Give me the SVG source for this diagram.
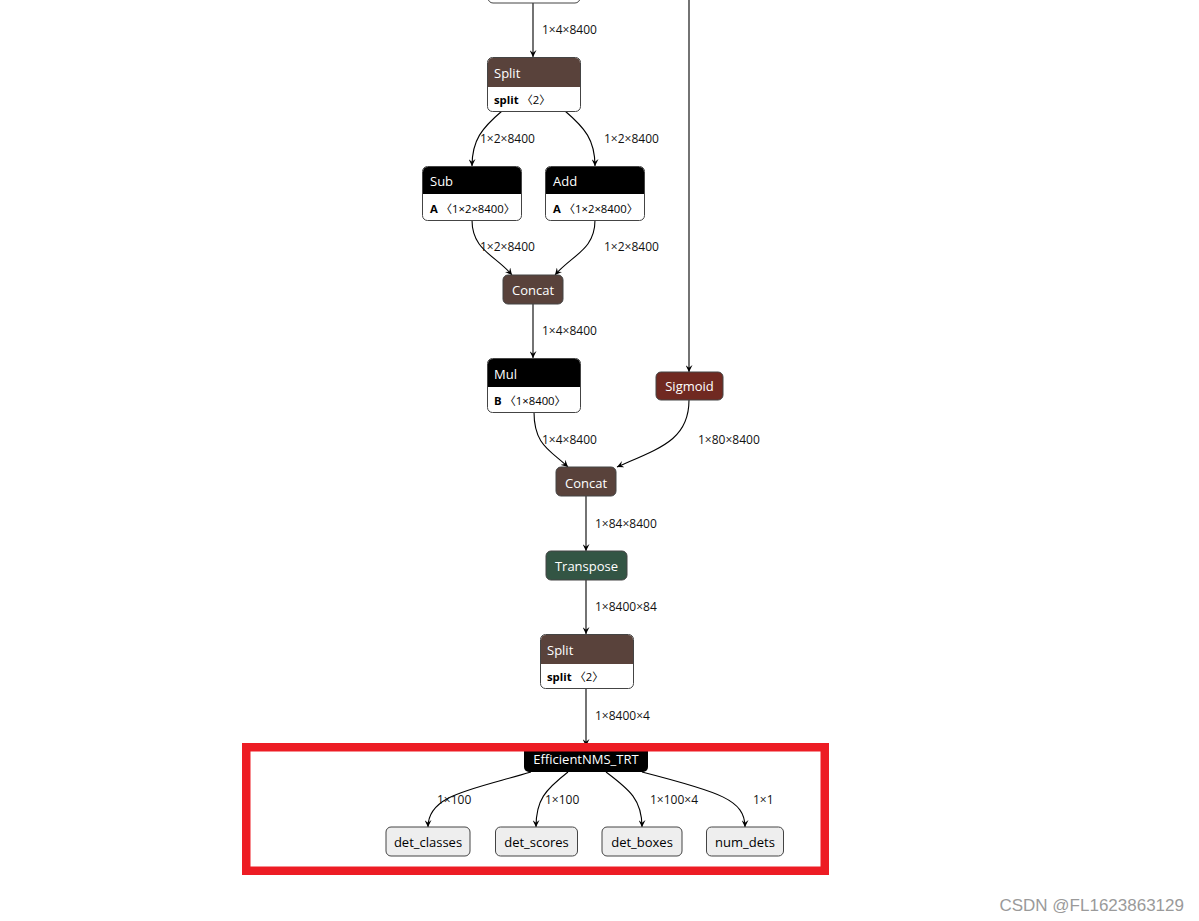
<svg xmlns="http://www.w3.org/2000/svg" width="1199" height="921" viewBox="0 0 1199 921">
<defs>
<marker id="arr" viewBox="0 0 10 10" refX="10" refY="5" markerWidth="7" markerHeight="7" markerUnits="userSpaceOnUse" orient="auto">
<path d="M0,0 L10,5 L0,10 L4,5 z" fill="#000"/>
</marker>
<style>
text{font-family:"Open Sans","Noto Sans","Noto Sans CJK SC",sans-serif}
.e{fill:none;stroke:#000;stroke-width:1.1;marker-end:url(#arr)}
.lbl{font-size:12px;fill:#111}
.hd{font-size:13px;fill:#fff}
.bd{fill:#fff;stroke:#444;stroke-width:1}
.bt{font-size:11.3px;fill:#000}
.b{font-weight:bold}
.tensor{fill:#59423b}
.blk{fill:#000}
.act{fill:#702921}
.trn{fill:#335544}
.io{fill:#eeeeee;stroke:#444;stroke-width:1}
.iot{font-size:13px;fill:#000;text-anchor:middle}
</style>
</defs>
<rect width="1199" height="921" fill="#fff"/>

<g id="connectors">
<path class="e" d="M533,3 L533,57"/>
<path class="e" d="M689,0 L689,372"/>
<path class="e" d="M502,111 C482,128 472,140 472,166"/>
<path class="e" d="M565,111 C585,128 595,140 595,166"/>
<path class="e" d="M472,220 C472,250 495,255 512,275"/>
<path class="e" d="M595,220 C595,250 572,255 555,275"/>
<path class="e" d="M533,304 L533,358"/>
<path class="e" d="M534,412 C534,445 550,450 568,467"/>
<path class="e" d="M689,400 C689,440 660,448 617,467"/>
<path class="e" d="M586,496 L586,551"/>
<path class="e" d="M586,580 L586,634"/>
<path class="e" d="M586,688 L586,746"/>
<path class="e" d="M531,772 C470,790 428,795 428,827"/>
<path class="e" d="M568,772 C545,790 536,800 536,827"/>
<path class="e" d="M606,772 C630,790 642,800 642,827"/>
<path class="e" d="M642,772 C720,792 745,800 745,827"/>
<text class="lbl" x="542" y="34">1×4×8400</text>
<text class="lbl" x="480" y="143">1×2×8400</text>
<text class="lbl" x="604" y="143">1×2×8400</text>
<text class="lbl" x="480" y="251">1×2×8400</text>
<text class="lbl" x="604" y="251">1×2×8400</text>
<text class="lbl" x="542" y="335">1×4×8400</text>
<text class="lbl" x="542" y="444">1×4×8400</text>
<text class="lbl" x="698" y="444">1×80×8400</text>
<text class="lbl" x="595" y="528">1×84×8400</text>
<text class="lbl" x="595" y="611">1×8400×84</text>
<text class="lbl" x="595" y="720">1×8400×4</text>
<text class="lbl" x="437" y="804">1×100</text>
<text class="lbl" x="545" y="804">1×100</text>
<text class="lbl" x="650" y="804">1×100×4</text>
<text class="lbl" x="753" y="804">1×1</text>
</g>

<g id="top-node">
<rect class="bd" x="488" y="-30" width="92" height="33" rx="5"/>
</g>

<g id="split1">
<rect class="bd" x="487.5" y="57.5" width="93" height="54" rx="5"/>
<path class="tensor" d="M488,87 L488,63 Q488,58 493,58 L575,58 Q580,58 580,63 L580,87 z"/>
<text class="hd" x="494" y="78">Split</text>
<text class="bt" x="494" y="104"><tspan class="b">split</tspan> 〈2〉</text>
</g>

<g id="sub">
<rect class="bd" x="422.5" y="166.5" width="99" height="54" rx="5"/>
<path class="blk" d="M423,194 L423,172 Q423,167 428,167 L516,167 Q521,167 521,172 L521,194 z"/>
<text class="hd" x="430" y="186">Sub</text>
<text class="bt" x="430" y="213"><tspan class="b">A</tspan> 〈1×2×8400〉</text>
</g>

<g id="add">
<rect class="bd" x="545.5" y="166.5" width="99" height="54" rx="5"/>
<path class="blk" d="M546,194 L546,172 Q546,167 551,167 L639,167 Q644,167 644,172 L644,194 z"/>
<text class="hd" x="553" y="186">Add</text>
<text class="bt" x="553" y="213"><tspan class="b">A</tspan> 〈1×2×8400〉</text>
</g>

<g id="concat1">
<rect class="tensor" x="503" y="275" width="60" height="29" rx="5" stroke="#444"/>
<text class="hd" x="533" y="294.5" text-anchor="middle">Concat</text>
</g>

<g id="mul">
<rect class="bd" x="487.5" y="358.5" width="93" height="54" rx="5"/>
<path class="blk" d="M488,387 L488,364 Q488,359 493,359 L575,359 Q580,359 580,364 L580,387 z"/>
<text class="hd" x="494" y="379">Mul</text>
<text class="bt" x="494" y="405"><tspan class="b">B</tspan> 〈1×8400〉</text>
</g>

<g id="sigmoid">
<rect class="act" x="656" y="372" width="67" height="28" rx="5" stroke="#444"/>
<text class="hd" x="689.5" y="391" text-anchor="middle">Sigmoid</text>
</g>

<g id="concat2">
<rect class="tensor" x="556" y="467" width="60" height="29" rx="5" stroke="#444"/>
<text class="hd" x="586" y="487.5" text-anchor="middle">Concat</text>
</g>

<g id="transpose">
<rect class="trn" x="546" y="551" width="81" height="29" rx="5" stroke="#444"/>
<text class="hd" x="586.5" y="571" text-anchor="middle">Transpose</text>
</g>

<g id="split2">
<rect class="bd" x="540.5" y="634.5" width="93" height="54" rx="5"/>
<path class="tensor" d="M541,664 L541,640 Q541,635 546,635 L628,635 Q633,635 633,640 L633,664 z"/>
<text class="hd" x="547" y="655">Split</text>
<text class="bt" x="547" y="681"><tspan class="b">split</tspan> 〈2〉</text>
</g>

<g id="nms">
<rect class="blk" x="524" y="746" width="124" height="26" rx="5"/>
<text class="hd" x="586" y="764" text-anchor="middle">EfficientNMS_TRT</text>
</g>

<g id="det_classes">
<rect class="io" x="386" y="827" width="84" height="29" rx="5"/>
<text class="iot" x="428" y="847">det_classes</text>
</g>
<g id="det_scores">
<rect class="io" x="495.5" y="827" width="82" height="29" rx="5"/>
<text class="iot" x="536.5" y="847">det_scores</text>
</g>
<g id="det_boxes">
<rect class="io" x="602" y="827" width="80" height="29" rx="5"/>
<text class="iot" x="642" y="847">det_boxes</text>
</g>
<g id="num_dets">
<rect class="io" x="706.5" y="827" width="77" height="29" rx="5"/>
<text class="iot" x="745" y="847">num_dets</text>
</g>

<g id="highlight">
<rect x="246.25" y="747.25" width="578.5" height="123.5" fill="none" stroke="#ed1c24" stroke-width="8.5"/>
</g>

<g id="watermark">
<text x="1184" y="911" text-anchor="end" font-size="17" fill="#9a9a9a" style="font-family:'Liberation Sans',Arial,sans-serif">CSDN @FL1623863129</text>
</g>
</svg>
